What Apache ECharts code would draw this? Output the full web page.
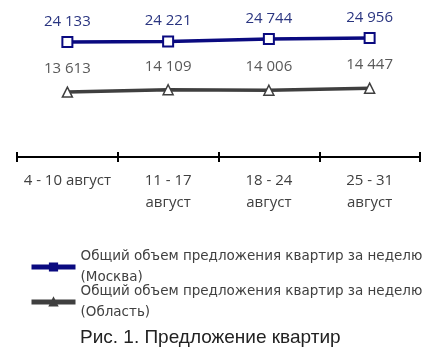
<!DOCTYPE html>
<html>
<head>
<meta charset="utf-8">
<script src="https://cdn.jsdelivr.net/npm/echarts@6/dist/echarts.min.js"></script>
<style>
html,body{margin:0;padding:0;background:#fff;}
#c{width:445px;height:360px;}
</style>
</head>
<body>
<div id="c"></div>
<script>
var categories = ['4 - 10 август', '11 - 17\nавгуст', '18 - 24\nавгуст', '25 - 31\nавгуст'];
var moscowName = 'Общий объем предложения квартир за неделю (Москва)';
var regionName = 'Общий объем предложения квартир за неделю (Область)';
var moscowValues = [24133, 24221, 24744, 24956];
var regionValues = [13613, 14109, 14006, 14447];
var titleText = 'Рис. 1. Предложение квартир';

function fmtNum(v) {
  return String(v).replace(/\B(?=(\d{3})+(?!\d))/g, ' ');
}

var chart = echarts.init(document.getElementById('c'), null, {renderer: 'canvas'});
var legendText = {
  fontFamily: 'DejaVu Sans', fontSize: 13.5, color: '#404040', lineHeight: 21
};
var legendFmt = function (name) { return name.replace(' (', '\n('); };

chart.setOption({
  animation: false,
  backgroundColor: '#fff',
  title: {
    text: titleText,
    left: 80, top: 328,
    padding: 0,
    textStyle: {fontFamily: 'Liberation Sans', fontSize: 19, fontWeight: 'normal', color: '#222'}
  },
  legend: [
    {
      data: [moscowName], left: 29, top: 246, padding: 0,
      itemWidth: 44, itemHeight: 9, itemGap: 2,
      lineStyle: {width: 5},
      itemStyle: {color: '#0a0a80'},
      formatter: legendFmt, textStyle: legendText, selectedMode: false
    },
    {
      data: [regionName], left: 29, top: 281, padding: 0,
      itemWidth: 44, itemHeight: 9, itemGap: 2,
      lineStyle: {width: 5},
      itemStyle: {color: '#3f3f3f'},
      formatter: legendFmt, textStyle: legendText, selectedMode: false
    }
  ],
  grid: {left: 17, right: 25, top: 14, bottom: 203, containLabel: false},
  xAxis: [
    {
      type: 'category', data: categories, boundaryGap: true, position: 'bottom',
      axisLine: {lineStyle: {color: '#000', width: 2}},
      axisTick: {show: true, length: 5, inside: false, lineStyle: {color: '#000', width: 2}},
      axisLabel: {
        margin: 13, fontFamily: 'Open Sans', fontSize: 15, color: '#404040',
        lineHeight: 22, interval: 0
      },
      splitLine: {show: false}
    },
    {
      type: 'category', data: categories, boundaryGap: true, position: 'bottom',
      axisLine: {show: false},
      axisTick: {show: true, length: 5, inside: true, lineStyle: {color: '#000', width: 2}},
      axisLabel: {show: false},
      splitLine: {show: false}
    }
  ],
  yAxis: {type: 'value', min: 0, max: 30000, show: false, splitLine: {show: false}},
  series: [
    {
      name: moscowName, type: 'line', data: moscowValues, xAxisIndex: 0,
      symbol: 'rect', symbolSize: 10,
      lineStyle: {color: '#0a0a80', width: 3.5},
      itemStyle: {color: '#fff', borderColor: '#0a0a80', borderWidth: 2},
      label: {
        show: true, position: 'top', distance: 7,
        formatter: function (p) { return fmtNum(p.value); },
        fontFamily: 'Open Sans', fontSize: 15, color: '#2a3580'
      }
    },
    {
      name: regionName, type: 'line', data: regionValues, xAxisIndex: 0,
      symbol: 'triangle', symbolSize: 10,
      lineStyle: {color: '#3f3f3f', width: 3.5},
      itemStyle: {color: '#fff', borderColor: '#3f3f3f', borderWidth: 1.5},
      label: {
        show: true, position: 'top', distance: 10,
        formatter: function (p) { return fmtNum(p.value); },
        fontFamily: 'Open Sans', fontSize: 15, color: '#595959'
      }
    }
  ]
});
</script>
</body>
</html>
